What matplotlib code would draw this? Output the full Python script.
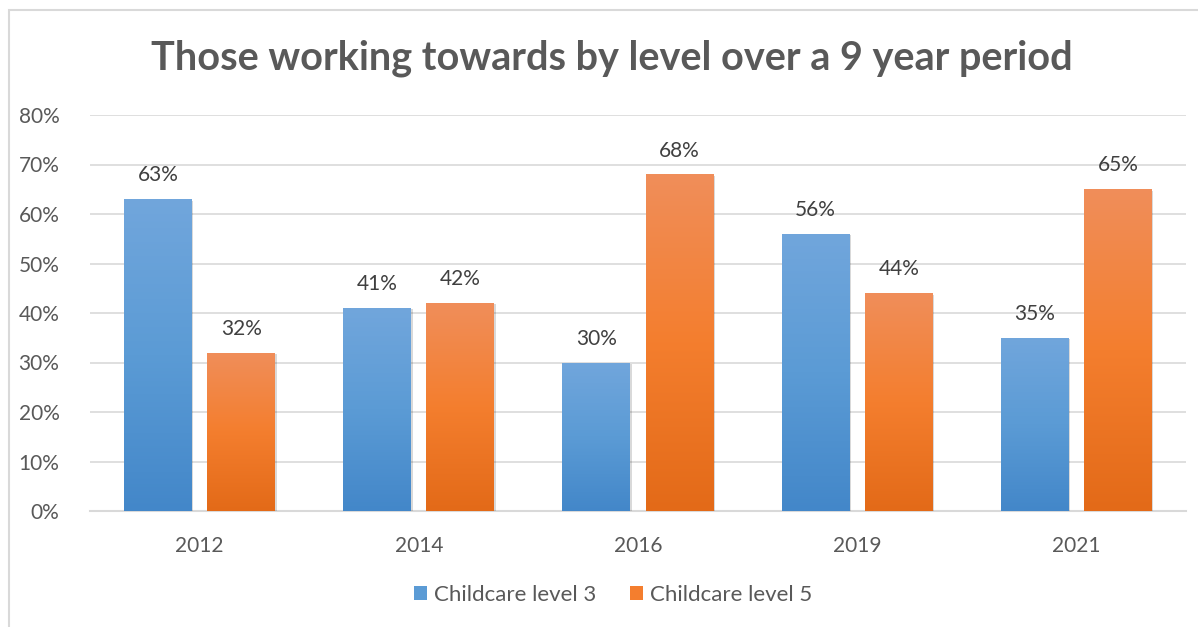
import numpy as np
import matplotlib
matplotlib.use("Agg")
import matplotlib.pyplot as plt
import matplotlib.patheffects as pe
from matplotlib.patches import Rectangle, Patch
from matplotlib.colors import LinearSegmentedColormap

years = ["2012", "2014", "2016", "2019", "2021"]
level3 = [63, 41, 30, 56, 35]
level5 = [32, 42, 68, 44, 65]
series_names = ["Childcare level 3", "Childcare level 5"]

TEXT = "#595959"
GRID = "#D9D9D9"
blue_grad = LinearSegmentedColormap.from_list("b", ["#4387C9", "#5B9BD5", "#71A6DC"])
orange_grad = LinearSegmentedColormap.from_list("o", ["#E36A18", "#F47E2E", "#F08E5A"])

plt.rcParams["font.family"] = ["Lato", "DejaVu Sans"]

fig = plt.figure(figsize=(11.98, 6.27), dpi=100)
ax = fig.add_axes([90 / 1198, 1 - 511 / 627, 1096 / 1198, 396 / 627])

x = np.arange(len(years))
w = 0.31
off = 0.19

shadow = [pe.SimplePatchShadow(offset=(1.0, -1.0), shadow_rgbFace="black", alpha=0.15), pe.Normal()]
b3 = ax.bar(x - off, level3, w, color="#5B9BD5", zorder=3, path_effects=shadow)
b5 = ax.bar(x + off, level5, w, color="#F47E2E", zorder=3, path_effects=shadow)

grad = np.linspace(0, 1, 256).reshape(-1, 1)
for bars, cmap in [(b3, blue_grad), (b5, orange_grad)]:
    for p in bars:
        x0, h, bw = p.get_x(), p.get_height(), p.get_width()
        im = ax.imshow(grad, cmap=cmap, origin="lower", aspect="auto",
                       extent=[x0, x0 + bw, 0, h], zorder=4)
        im.set_clip_path(p)
        ax.text(x0 + bw / 2, h + 2.8, f"{int(h)}%", ha="center", va="bottom",
                fontsize=15, color="#404040", zorder=5)

ax.set_xlim(-0.5, len(years) - 0.5)
ax.set_ylim(0, 80)
ax.set_yticks(np.arange(0, 81, 10))
ax.set_yticklabels([f"{v}%" for v in range(0, 81, 10)])
ax.set_xticks(x)
ax.set_xticklabels(years)
ax.tick_params(axis="both", length=0, labelsize=15, labelcolor=TEXT)
ax.tick_params(axis="y", pad=22)
ax.tick_params(axis="x", pad=18)
ax.yaxis.grid(True, color=GRID, linewidth=1.2, zorder=0)
ax.set_axisbelow(True)
for s in ["top", "right", "left"]:
    ax.spines[s].set_visible(False)
ax.spines["bottom"].set_color(GRID)
ax.spines["bottom"].set_linewidth(1.5)

fig.text(612 / 1198, 1 - 58 / 627, "Those working towards by level over a 9 year period",
         ha="center", va="center", fontsize=28.5, fontweight="bold", color=TEXT)

handles = [Patch(facecolor="#5B9BD5"), Patch(facecolor="#F47E2E")]
fig.legend(handles, series_names, loc="center", bbox_to_anchor=(613 / 1198, 1 - 595 / 627),
           ncol=2, frameon=False, fontsize=16, labelcolor=TEXT, handlelength=0.6,
           handleheight=0.6, handletextpad=0.3, columnspacing=1.5)

fig.patches.append(Rectangle((9 / 1198, -0.05), 1.2, 1 - 10 / 627 + 0.05,
                             transform=fig.transFigure, fill=False, edgecolor=GRID, linewidth=1.5))

fig.savefig("out.png", dpi=100, facecolor="white")
